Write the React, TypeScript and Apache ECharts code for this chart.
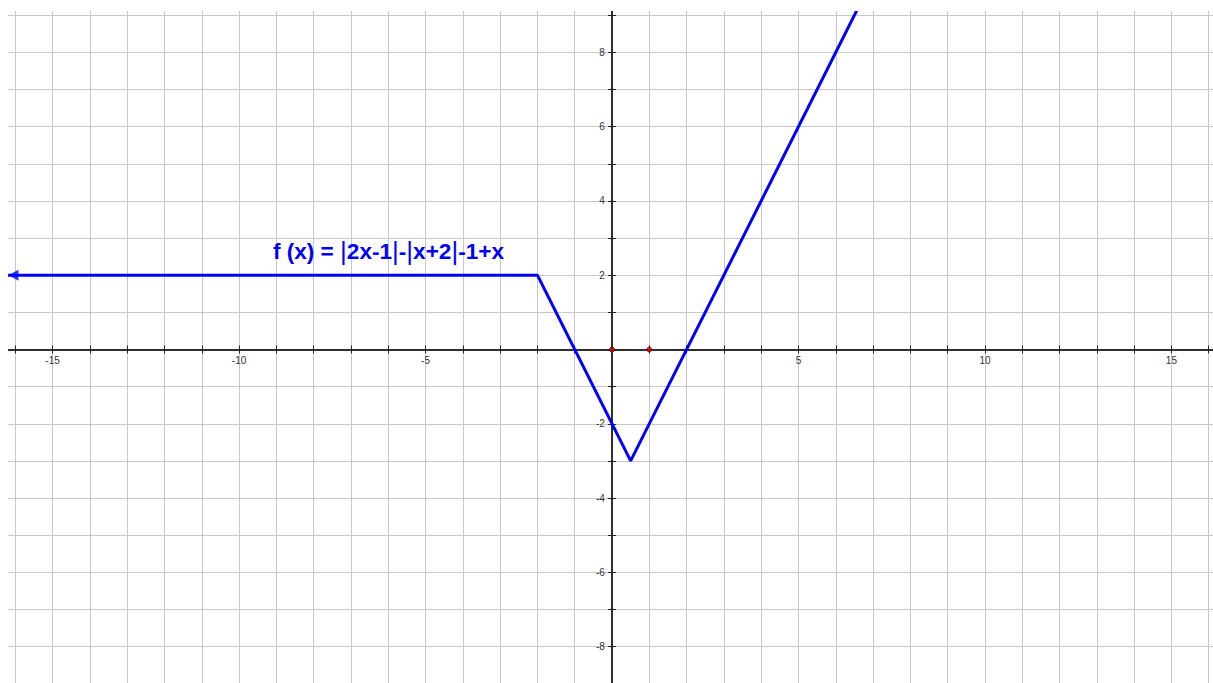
import React, { useEffect, useRef } from 'react';
import * as echarts from 'echarts';

// ---- data ----
const xRange = [-17, 17];
const yRange = [-10, 10];
const curveX = [-16.2, -2, 0.5, 7];
const curveY = [2, 2, -3, 10];
const arrowX = [-16.05];
const arrowY = [2];
const markedX = [0, 1];
const markedY = [0, 0];
const xLabelStep = 5;
const yLabelStep = 2;
const formulaParts = ['f (x) = ', '|', '2x-1', '|', '-', '|', 'x+2', '|', '-1+x'];

// ---- layout ----
const UNIT_X = 37.29;
const UNIT_Y = 37.15;
const CHART_W = (xRange[1] - xRange[0]) * UNIT_X;
const CHART_H = (yRange[1] - yRange[0]) * UNIT_Y;
const ORIGIN_PAGE = [612, 349.5];
const VIEW = { left: 8, top: 11, width: 1205, height: 672 };
const chartLeft = ORIGIN_PAGE[0] - -xRange[0] * UNIT_X - VIEW.left;
const chartTop = ORIGIN_PAGE[1] - yRange[1] * UNIT_Y - VIEW.top;
const offX = -(-xRange[0] * UNIT_X); // move y-axis from left edge to x=0
const offY = -(-yRange[0] * UNIT_Y); // move x-axis from bottom edge to y=0

const BLUE = '#0000ff';
const GRID = '#c8c8c8';
const AXIS = '#222222';
const FONT = 'Liberation Sans, Arial, sans-serif';

function makeLabel(step: number, range: number[]) {
  return (v: number) =>
    Math.abs(v % step) < 1e-9 && v !== 0 && v !== range[0] && v !== range[1] ? String(v) : '';
}

export default function App() {
  const ref = useRef<HTMLDivElement>(null);
  useEffect(() => {
    if (!ref.current) return;
    const chart = echarts.init(ref.current, undefined, { renderer: 'svg' });

    const baseX = (pos: 'bottom' | 'top', main: boolean) => ({
      type: 'value',
      min: xRange[0],
      max: xRange[1],
      interval: 1,
      position: pos,
      offset: main ? offY : 0,
      axisLine: { show: true, onZero: !main, onZeroAxisIndex: 0, lineStyle: { color: AXIS, width: 1.5 } },
      axisTick: { show: true, interval: 0, length: 4, lineStyle: { color: AXIS, width: 1 } },
      axisLabel: {
        show: main,
        interval: 0,
        formatter: makeLabel(xLabelStep, xRange),
        fontSize: 10,
        color: '#333',
        margin: 6,
        fontFamily: FONT,
      },
      splitLine: { show: main, interval: 0, lineStyle: { color: GRID, width: 1 } },
    });
    const baseY = (pos: 'left' | 'right', main: boolean) => ({
      type: 'value',
      min: yRange[0],
      max: yRange[1],
      interval: 1,
      position: pos,
      offset: main ? offX : 0,
      axisLine: { show: true, onZero: !main, onZeroAxisIndex: 0, lineStyle: { color: AXIS, width: 1.5 } },
      axisTick: { show: true, interval: 0, length: 4, lineStyle: { color: AXIS, width: 1 } },
      axisLabel: {
        show: main,
        interval: 0,
        formatter: makeLabel(yLabelStep, yRange),
        fontSize: 10,
        color: '#333',
        margin: 7,
        fontFamily: FONT,
      },
      splitLine: { show: main, interval: 0, lineStyle: { color: GRID, width: 1 } },
    });

    const rich: any = {
      t: { fontSize: 22.6, fontWeight: 'bold', color: BLUE, fontFamily: FONT },
      bar: { fontSize: 26, fontWeight: 'normal', color: BLUE, fontFamily: FONT },
    };
    const formulaText = formulaParts.map((p) => (p === '|' ? `{bar||}` : `{t|${p}}`)).join('');

    chart.setOption({
      animation: false,
      backgroundColor: '#ffffff',
      grid: { left: 0, top: 0, right: 0, bottom: 0, containLabel: false, outerBoundsMode: 'none' },
      xAxis: [baseX('bottom', true), baseX('top', false)],
      yAxis: [baseY('left', true), baseY('right', false)],
      graphic: [
        {
          type: 'text',
          left: 273 - VIEW.left - chartLeft,
          top: 238 - VIEW.top - chartTop,
          z: 100,
          style: { text: formulaText, rich, fill: BLUE },
        },
      ],
      series: [
        {
          type: 'line',
          data: curveX.map((x, i) => [x, curveY[i]]),
          symbol: 'none',
          lineStyle: { color: BLUE, width: 3 },
          z: 5,
          clip: true,
        },
        {
          type: 'scatter',
          data: arrowX.map((x, i) => [x, arrowY[i]]),
          symbol: 'triangle',
          symbolSize: [11, 10],
          symbolRotate: 90,
          itemStyle: { color: BLUE },
          z: 6,
        },
        {
          type: 'scatter',
          data: markedX.map((x, i) => [x, markedY[i]]),
          symbolSize: 5,
          itemStyle: { color: '#e00000', borderColor: '#600000', borderWidth: 1 },
          z: 7,
        },
      ],
    });
    return () => chart.dispose();
  }, []);

  return (
    <div
      style={{
        position: 'fixed',
        left: VIEW.left,
        top: VIEW.top,
        width: VIEW.width,
        height: VIEW.height,
        overflow: 'hidden',
        background: '#fff',
      }}
    >
      <div
        ref={ref}
        style={{ position: 'absolute', left: chartLeft, top: chartTop, width: CHART_W, height: CHART_H }}
      />
    </div>
  );
}
